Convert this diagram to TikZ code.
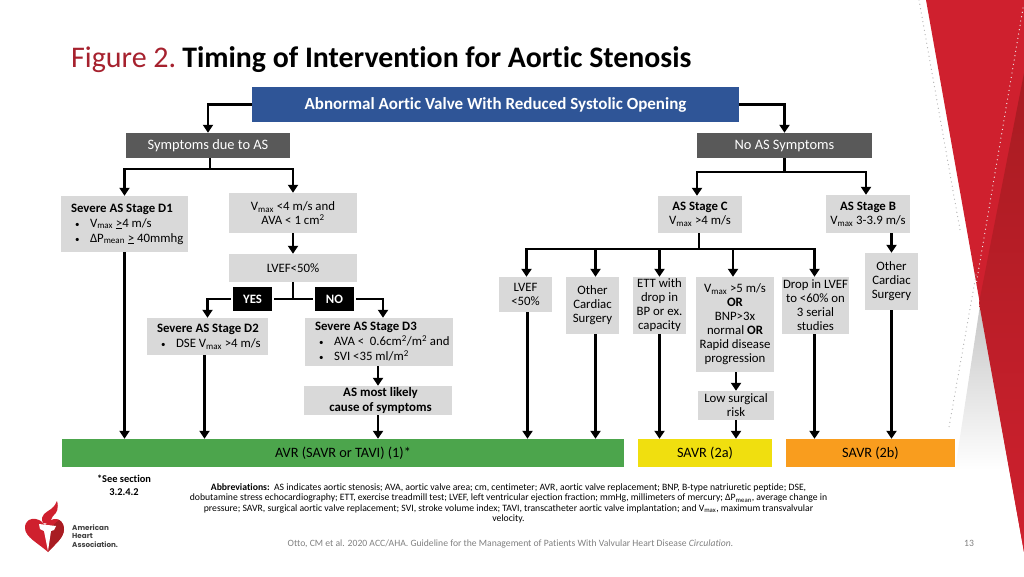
\documentclass[tikz,border=0pt]{standalone}
\usepackage{fontspec}
\setmainfont[Ligatures=NoCommon]{Carlito}
\newfontfamily\logofont{Poppins}
\usetikzlibrary{positioning}
\usetikzlibrary{calc}
\usetikzlibrary{arrows.meta}
\definecolor{ahablue}{HTML}{2F5597}
\definecolor{ahadark}{HTML}{595959}
\definecolor{ahagray}{HTML}{D9D9D9}
\definecolor{ahagreen}{HTML}{4CA54C}
\definecolor{ahayellow}{HTML}{F0DF0F}
\definecolor{ahaorange}{HTML}{F99D1E}
\definecolor{ahared}{HTML}{CF202E}
\definecolor{ahadeep}{HTML}{A81C22}
\definecolor{ahatitle}{HTML}{A6212E}
\newcommand{\vmax}{V\textsubscript{max}}
\newcommand{\pmean}{ΔP\textsubscript{mean}}
\newcommand{\sq}{\textsuperscript{2}}
\newcommand{\bul}{\makebox[29pt][l]{\hspace*{14pt}\scalebox{0.7}{\textbullet}}}
\tikzset{
    base/.style={inner sep=0pt, align=center, font=\fontsize{12.8}{14}\selectfont},
    head/.style={base, fill=ahablue, text=white, font=\fontsize{17}{19}\selectfont\bfseries},
    dark/.style={base, fill=ahadark, text=white, font=\fontsize{14.4}{16}\selectfont},
    graybox/.style={base, fill=ahagray},
    listbox/.style={base, fill=ahagray, align=flush left, font=\fontsize{12.8}{15}\selectfont},
    answer/.style={base, fill=black, text=white, font=\fontsize{12.8}{14}\selectfont\bfseries},
    result/.style={base, font=\fontsize{14.3}{16}\selectfont},
    link/.style={line width=2.4pt},
    flow/.style={line width=2.4pt, -{Triangle[length=8pt,width=10pt]}},
    dots/.style={line width=1.3pt, line cap=round, dash pattern=on 0pt off 4.4pt, gray!60},
}
\begin{document}
\begin{tikzpicture}[x=1pt, y=-1pt]
        \useasboundingbox (0,0) rectangle (1024,576);

        % Red corner
        \shade[top color=gray!45, bottom color=white] (980,305) -- (1010,470) -- (955,470) -- cycle;
        \fill[ahared] (926,0) -- (1024,0) -- (1024,552) -- cycle;
        \shade[top color=ahadeep, middle color=ahadeep, bottom color=ahared] (1024,73) -- (979,303) -- (1024,552) -- cycle;
        \draw[dots] (919,0) -- (960,230);
        \draw[dots] (976,275) -- (949,427);
        \draw[dots, gray!15] (1023,8) -- (976,285);

        % Title
        \node[anchor=base west, inner sep=0pt, font=\fontsize{30}{32}\selectfont] (title) at (71,67)
            {\textcolor{ahatitle}{Figure 2.}\hspace{-3pt} {\fontsize{29.8}{32}\selectfont\textbf{Timing of Intervention for Aortic Stenosis}}};

        % Top row
        \node[head, minimum width=487pt, minimum height=35pt] (top) at (495.5,104.5) {Abnormal Aortic Valve With Reduced Systolic Opening};
        \node[dark, minimum width=164pt, minimum height=25pt] (sym) at (208,145.5) {Symptoms due to AS};
        \node[dark, minimum width=175pt, minimum height=25pt] (noas) at (784.5,145.5) {No AS Symptoms};

        % Symptoms side
        \node[listbox, text width=127pt, minimum height=56pt] (d1) at (124.5,224) {\hspace*{10pt}\textbf{Severe AS Stage D1}\\\bul\vmax\ \underline{>}4 m/s\\\bul\pmean\ \underline{>} 40mmhg};
        \node[graybox, minimum width=128pt, minimum height=40pt] (vm) at (293,213) {\vmax\ <4 m/s and\\AVA < 1 cm\sq};
        \node[graybox, minimum width=128pt, minimum height=28pt] (lvef) at (293,268) {LVEF<50\%};
        \node[answer, minimum width=39pt, minimum height=24pt] (yes) at (252.5,299) {YES};
        \node[answer, minimum width=39pt, minimum height=24pt] (no) at (334.5,299) {NO};
        \node[listbox, text width=121pt, minimum height=37pt] (d2) at (207.5,336.5) {\hspace*{10pt}\textbf{Severe AS Stage D2}\\\bul DSE \vmax\ >4 m/s};
        \node[listbox, text width=148pt, minimum height=48pt] (d3) at (379,342) {\hspace*{10pt}\textbf{Severe AS Stage D3}\\\bul AVA <\ \ 0.6cm\sq/m\sq\ and\\\bul SVI <35 ml/m\sq};
        \node[graybox, minimum width=148pt, minimum height=29pt, font=\fontsize{12.9}{15}\selectfont\bfseries] (likely) at (378,400.5) {\hspace*{5pt}AS most likely\\\hspace*{5pt}cause of symptoms};

        % No symptoms side
        \node[graybox, minimum width=84pt, minimum height=37pt] (stagec) at (700,214.5) {\textbf{AS Stage C}\\\vmax\ >4 m/s};
        \node[graybox, minimum width=84pt, minimum height=38pt] (stageb) at (868,214) {\textbf{AS Stage B}\\\vmax\ 3-3.9 m/s};
        \node[graybox, minimum width=53pt, minimum height=35pt] (lv50) at (525.5,294.5) {LVEF\\<50\%};
        \node[graybox, minimum width=53pt, minimum height=57pt] (other1) at (592.5,305.5) {Other\\Cardiac\\Surgery};
        \node[graybox, minimum width=53pt, minimum height=57pt] (ett) at (659.5,305.5) {ETT with\\drop in\\BP or ex.\\capacity};
        \node[graybox, minimum width=78pt, minimum height=95pt] (vm5) at (735,324.5) {\vmax\ >5 m/s\\\textbf{OR}\\BNP>3x\\normal \textbf{OR}\\Rapid disease\\progression};
        \node[graybox, minimum width=67pt, minimum height=57pt] (drop) at (815.5,305.5) {Drop in LVEF\\to <60\% on\\3 serial\\studies};
        \node[graybox, minimum width=76pt, minimum height=29pt] (low) at (736,405.5) {Low surgical\\risk};
        \node[graybox, minimum width=53pt, minimum height=57pt] (other2) at (891.5,281.5) {Other\\Cardiac\\Surgery};

        % Result bars
        \node[result, fill=ahagreen, minimum width=562pt, minimum height=28pt] (avr) at (343,453) {AVR (SAVR or TAVI) (1)*};
        \node[result, fill=ahayellow, minimum width=134pt, minimum height=28pt] (savra) at (705,453) {SAVR (2a)};
        \node[result, fill=ahaorange, minimum width=169pt, minimum height=28pt] (savrb) at (870.5,453) {SAVR (2b)};

        % Split points
        \coordinate (symsplit) at (210,169);
        \coordinate (noassplit) at (782,172);
        \coordinate (lvefsplit) at (293,299);
        \coordinate (csplit) at (699,249);

        % Connectors from the top box
        \draw[flow] (top.west) -| (sym.north);
        \draw[flow] (top.east) -| (noas.north);

        % Connectors, symptoms side
        \draw[link] ([xshift=2pt]sym.south) -- (symsplit);
        \draw[flow] (symsplit) -| (d1.north);
        \draw[flow] (symsplit) -| (vm.north);
        \draw[flow] (vm.south) -- (lvef.north);
        \draw[link] (lvef.south) -- (lvefsplit);
        \draw[link, shorten <=2pt, shorten >=2pt] (yes.east) -- (no.west);
        \draw[flow, shorten <=2pt] (yes.west) -| (d2.north);
        \draw[flow, shorten <=2pt] (no.east) -| ([xshift=4pt]d3.north);
        \draw[flow] (d1.south) -- (d1.south |- avr.north);
        \draw[flow] ([xshift=-3pt]d2.south) -- ([xshift=-3pt]d2.south |- avr.north);
        \draw[flow] ([xshift=-1pt]d3.south) -- (likely.north);
        \draw[flow] (likely.south) -- (likely.south |- avr.north);

        % Connectors, no symptoms side
        \draw[link] (noas.south) -- (noas.south |- noassplit);
        \draw[flow] (noassplit) -| ([xshift=-3pt]stagec.north);
        \draw[flow] (noassplit) -| ([xshift=-2pt]stageb.north);
        \draw[link] ([xshift=-1pt]stagec.south) -- (csplit);
        \draw[flow] (csplit) -| ([xshift=1pt]lv50.north);
        \draw[flow] (csplit) -| ([xshift=3pt]other1.north);
        \draw[flow] (csplit) -| (ett.north);
        \draw[flow] (csplit) -| ([xshift=-2pt]vm5.north);
        \draw[flow] (csplit) -| ([xshift=-1pt]drop.north);
        \draw[flow] (stageb.south -| other2.north) -- (other2.north);

        % Drops to the result bars
        \draw[flow] ([xshift=2pt]lv50.south) -- ([xshift=2pt]lv50.south |- avr.north);
        \draw[flow] ([xshift=3pt]other1.south) -- ([xshift=3pt]other1.south |- avr.north);
        \draw[flow] (ett.south) -- (ett.south |- savra.north);
        \draw[flow] ([xshift=1pt]vm5.south) -- (low.north);
        \draw[flow] (low.south) -- (low.south |- savra.north);
        \draw[flow] ([xshift=-1pt]drop.south) -- ([xshift=-1pt]drop.south |- savrb.north);
        \draw[flow] (other2.south) -- (other2.south |- savrb.north);

        % Notes
        \node[inner sep=0pt, align=center, font=\fontsize{10.4}{13}\selectfont\bfseries] (see) at (124,485) {*See section\\3.2.4.2};
        \node[inner sep=0pt, align=center, font=\fontsize{9.7}{10.4}\selectfont] (abbr) at (508.5,503.5) {\textbf{Abbreviations:}\ \ AS indicates aortic stenosis; AVA, aortic valve area; cm, centimeter; AVR, aortic valve replacement; BNP, B-type natriuretic peptide; DSE,\\dobutamine stress echocardiography; ETT, exercise treadmill test; LVEF, left ventricular ejection fraction; mmHg, millimeters of mercury; \pmean, average change in\\pressure; SAVR, surgical aortic valve replacement; SVI, stroke volume index; TAVI, transcatheter aortic valve implantation; and \vmax, maximum transvalvular\\velocity.};
        \node[inner sep=0pt, text=gray, font=\fontsize{9.65}{11}\selectfont] (cite) at (510.5,543.5) {Otto, CM et al. 2020 ACC/AHA. Guideline for the Management of Patients With Valvular Heart Disease \textit{Circulation.}};
        \node[inner sep=0pt, text=gray, font=\fontsize{9.65}{11}\selectfont] (page) at (969,543.5) {13};

        % Logo
        \fill[ahared] (48,552) .. controls (38,543) and (25,537) .. (25,528) .. controls (25,520) and (31,518) .. (36,519) .. controls (40,520) and (43,522) .. (45,525) .. controls (47,522) and (50,520) .. (54,519) .. controls (60,518) and (64,523) .. (64,529) .. controls (64,538) and (55,544) .. (48,552) -- cycle;
        \fill[ahadeep] (48,552) .. controls (55,544) and (64,538) .. (64,529) .. controls (64,525) and (62,522) .. (59,520) -- (51,527) -- cycle;
        \fill[white] (39,524) -- (56,526) -- (54,530) -- (51,531) -- (48,551) -- (44,531) -- (40,529) -- cycle;
        \fill[ahared] (43,523) .. controls (39,515) and (47,512) .. (51,509) .. controls (55,506) and (56,503) .. (57,501) .. controls (59,508) and (57,513) .. (53,516) .. controls (51,518) and (51,521) .. (50,524) -- cycle;
        \node[anchor=west, inner sep=0pt, align=left, font=\logofont\fontsize{7.2}{8.6}\selectfont\bfseries, text=black!75] (aha) at (72,536) {American\\Heart\\Association.};

    \end{tikzpicture}
\end{document}
